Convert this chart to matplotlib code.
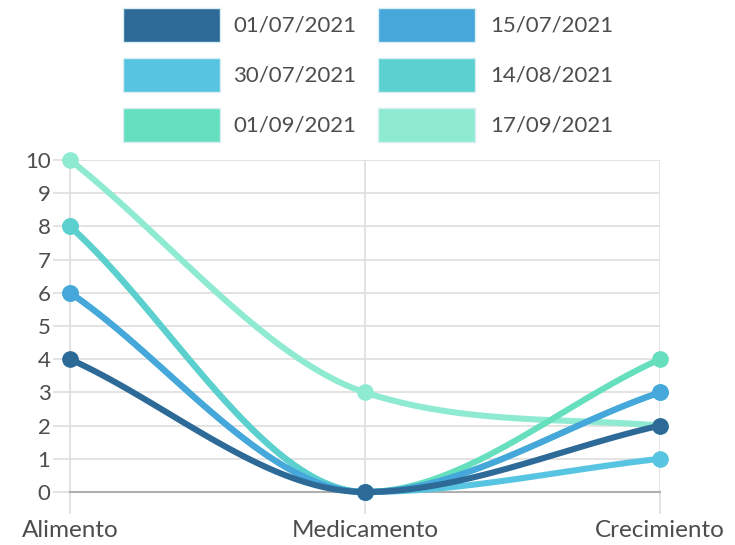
import matplotlib
matplotlib.use("Agg")
from matplotlib import pyplot as plt
from matplotlib.patches import Rectangle
import numpy as np

categorias = ["Alimento", "Medicamento", "Crecimiento"]
fechas = ["01/07/2021", "15/07/2021", "30/07/2021",
          "14/08/2021", "01/09/2021", "17/09/2021"]
valores_0107 = [4, 0, 2]
valores_1507 = [6, 0, 3]
valores_3007 = [6, 0, 1]
valores_1408 = [8, 0, 3]
valores_0109 = [8, 0, 4]
valores_1709 = [10, 3, 2]
series = [valores_0107, valores_1507, valores_3007,
          valores_1408, valores_0109, valores_1709]
colores = ["#2d6a98", "#46a7da", "#57c5e1", "#5cd0cf", "#66dfbf", "#8fead2"]
y_ticks = list(range(0, 11))


def tangentesMonotonas(y):
    """Tangentes como en la interpolacion 'monotone' de Chart.js."""
    n = len(y)
    delta = [y[i + 1] - y[i] for i in range(n - 1)]
    m = [0.0] * n
    m[0] = delta[0]
    m[-1] = delta[-1]
    for i in range(1, n - 1):
        if delta[i - 1] == 0 or delta[i] == 0 or np.sign(delta[i - 1]) != np.sign(delta[i]):
            m[i] = 0.0
        else:
            m[i] = (delta[i - 1] + delta[i]) / 2
    for i in range(n - 1):
        if delta[i] == 0:
            m[i] = m[i + 1] = 0.0
            continue
        a = m[i] / delta[i]
        b = m[i + 1] / delta[i]
        s = a * a + b * b
        if s > 9:
            tau = 3 / np.sqrt(s)
            m[i] = a * tau * delta[i]
            m[i + 1] = b * tau * delta[i]
    return m


def curva(y, pasos=60):
    m = tangentesMonotonas(y)
    xs, ys = [], []
    for i in range(len(y) - 1):
        t = np.linspace(0, 1, pasos)
        h00 = 2 * t**3 - 3 * t**2 + 1
        h10 = t**3 - 2 * t**2 + t
        h01 = -2 * t**3 + 3 * t**2
        h11 = t**3 - t**2
        xs.extend(i + t)
        ys.extend(h00 * y[i] + h10 * m[i] + h01 * y[i + 1] + h11 * m[i + 1])
    return np.array(xs), np.array(ys)


plt.rcParams['font.family'] = ['Lato', 'DejaVu Sans']
fig = plt.figure(figsize=(7.35, 5.45), dpi=100)
W, H = 735, 545
ax = fig.add_axes([70 / W, 1 - 492 / H, 590 / W, 332 / H])

x = np.arange(len(categorias))
for k in range(len(series) - 1, -1, -1):
    cx, cy = curva(series[k])
    z = 10 + (len(series) - k)
    ax.plot(cx, cy, '-', color=colores[k], lw=4.4, solid_capstyle='round',
            zorder=z, clip_on=False)
    ax.plot(x, series[k], 'o', color=colores[k], ms=11, zorder=z, clip_on=False)

ax.set_xlim(0, 2)
ax.set_ylim(0, 10)
ax.set_xticks(x)
ax.set_xticklabels(categorias)
ax.set_yticks(y_ticks)
ax.grid(color="#e0e0e0", lw=1.3, zorder=0)
ax.set_axisbelow(True)
ax.tick_params(width=1.3, color="#e0e0e0", labelcolor="#4d4d4d")
ax.tick_params(axis="x", labelsize=17.5, length=16, pad=4)
ax.tick_params(axis="y", labelsize=16, length=12, pad=2)
for lado in ["top", "right"]:
    ax.spines[lado].set_visible(False)
ax.spines["left"].set_color("#e0e0e0")
ax.spines["left"].set_linewidth(1.3)
ax.spines["bottom"].set_color("#b0b0b0")
ax.spines["bottom"].set_linewidth(1.5)

# leyenda en dos columnas
cajas_x = [123, 378]
textos_x = [233, 490]
filas_y = [25, 75, 125]
for k, fecha in enumerate(fechas):
    col, fila = k % 2, k // 2
    cy = filas_y[fila]
    fig.patches.append(Rectangle((cajas_x[col] / W, 1 - (cy + 17) / H), 97 / W, 34 / H,
                                 transform=fig.transFigure, facecolor=colores[k],
                                 edgecolor="#d8eef5", lw=1))
    fig.text(textos_x[col] / W, 1 - cy / H, fecha, fontsize=16, color="#4d4d4d",
             ha="left", va="center")

plt.savefig("out.png", dpi=100)
